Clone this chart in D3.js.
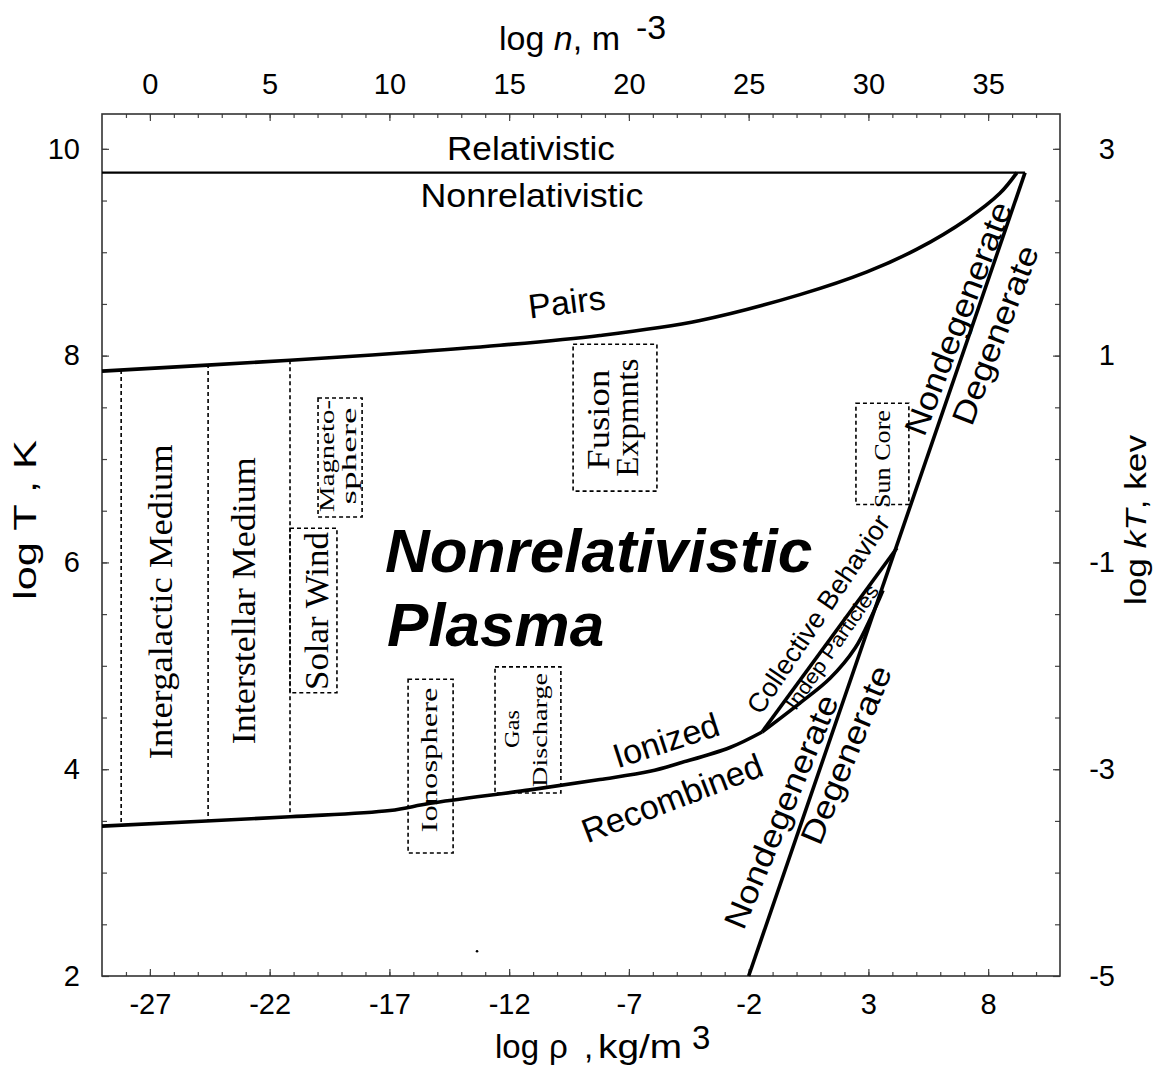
<!DOCTYPE html>
<html>
<head>
<meta charset="utf-8">
<script src="https://cdn.jsdelivr.net/npm/d3@7"></script>
<style>
  body { margin: 0; background: #fff; }
  text { font-family: "Liberation Sans", Arial, sans-serif; fill: #000; }
  .serif { font-family: "Liberation Serif", "Times New Roman", serif; }
</style>
</head>
<body>
<div id="chart"></div>
<script>
// ---- data (log rho in kg/m^3, log T in K) ----
var rhoTicks = [-27, -22, -17, -12, -7, -2, 3, 8];
var nTicks = [0, 5, 10, 15, 20, 25, 30, 35];
var tTicks = [2, 4, 6, 8, 10];
var kTTicks = [-5, -3, -1, 1, 3];

var relRho = [-29, 9.54];
var relT = [9.77, 9.77];

var pairsRho = [-29, -21.15, -16.56, -12.38, -8.21, -4.03, 0.14, 2.94, 5.03, 7.12, 8.49, 9.2];
var pairsT = [7.85, 7.955, 8.025, 8.10, 8.195, 8.34, 8.59, 8.81, 9.03, 9.32, 9.57, 9.77];

var recombRho = [-29, -21.15, -16.98, -15.3, -11.13, -8.21, -6.12, -4.87, -2.78, -1.44];
var recombT = [3.45, 3.54, 3.60, 3.67, 3.80, 3.90, 3.98, 4.06, 4.21, 4.36];

var collRho = [-1.44, 4.19];
var collT = [4.36, 6.14];

var indepRho = [-1.44, 0.14, 1.40, 2.44, 3.15, 3.61];
var indepT = [4.36, 4.64, 4.88, 5.17, 5.49, 5.73];

var degRho = [-2, 9.54];
var degT = [2, 9.77];

// vertical dotted lines bounding the medium columns
var mediumRho = [-28.2, -24.57, -21.15];
var mediumTop = [7.86, 7.92, 7.955];
var mediumBottom = [3.46, 3.51, 3.54];

// dotted boxes: rho0, rho1, T0, T1
var boxNames = ["Solar Wind", "Magnetosphere", "Fusion", "Sun Core", "Ionosphere", "Gas Discharge"];
var boxRho0 = [-21.15, -19.98, -9.33, 2.48, -16.22, -12.59];
var boxRho1 = [-19.19, -18.14, -5.83, 4.69, -14.34, -9.84];
var boxT0 = [4.74, 6.44, 6.69, 6.56, 3.19, 3.77];
var boxT1 = [6.33, 7.59, 8.11, 7.54, 4.87, 4.99];

var strayDot = [[-13.34, 2.24]];

// ---- layout ----
var W = 1160, H = 1068;
var frame = {left: 102, right: 1060, top: 114, bottom: 976};

var x = d3.scaleLinear().domain([-29, 11]).range([frame.left, frame.right]);
var y = d3.scaleLinear().domain([2, 10.337]).range([frame.bottom, frame.top]);
var xTop = d3.scaleLinear().domain([-2, 38]).range([frame.left, frame.right]);
var yRight = d3.scaleLinear().domain([-5, 3.337]).range([frame.bottom, frame.top]);

var svg = d3.select("#chart").append("svg")
    .attr("width", W)
    .attr("height", H);

// ---- axes ----
function minor(a, b, step) { return d3.range(a, b + 1e-9, step); }
var plain = function(d) { return String(d); };   // hyphen minus like the original

svg.append("g")
    .attr("transform", "translate(0," + frame.bottom + ")")
    .call(d3.axisBottom(x).tickValues(minor(-28, 10, 1)).tickSize(-4).tickFormat(""));
svg.append("g")
    .attr("transform", "translate(0," + frame.bottom + ")")
    .call(d3.axisBottom(x).tickValues(rhoTicks).tickSize(-7).tickPadding(17).tickFormat(plain));

svg.append("g")
    .attr("transform", "translate(0," + frame.top + ")")
    .call(d3.axisTop(xTop).tickValues(minor(-1, 37, 1)).tickSize(-4).tickFormat(""));
svg.append("g")
    .attr("transform", "translate(0," + frame.top + ")")
    .call(d3.axisTop(xTop).tickValues(nTicks).tickSize(-7).tickPadding(20).tickFormat(plain));

svg.append("g")
    .attr("transform", "translate(" + frame.left + ",0)")
    .call(d3.axisLeft(y).tickValues(minor(2.5, 10, 0.5)).tickSize(-5).tickFormat(""));
svg.append("g")
    .attr("transform", "translate(" + frame.left + ",0)")
    .call(d3.axisLeft(y).tickValues(tTicks).tickSize(-7).tickPadding(22).tickFormat(plain));

svg.append("g")
    .attr("transform", "translate(" + frame.right + ",0)")
    .call(d3.axisRight(yRight).tickValues(minor(-4.5, 3, 0.5)).tickSize(-5).tickFormat(""));
svg.append("g")
    .attr("class", "rightAxis")
    .attr("transform", "translate(" + frame.right + ",0)")
    .call(d3.axisRight(yRight).tickValues(kTTicks).tickSize(-7).tickPadding(22).tickFormat(plain));

svg.selectAll(".domain").remove();
svg.selectAll(".tick line").attr("stroke", "#444").attr("stroke-width", 1.2);
svg.selectAll(".tick text").style("font-size", "29px").attr("fill", "#000");
svg.selectAll(".rightAxis .tick text").attr("text-anchor", "end").attr("x", 55);

svg.append("rect")
    .attr("x", frame.left).attr("y", frame.top)
    .attr("width", frame.right - frame.left).attr("height", frame.bottom - frame.top)
    .attr("fill", "none").attr("stroke", "#333").attr("stroke-width", 1.6);

// axis titles
svg.append("text")
    .attr("transform", "translate(36,520) rotate(-90)")
    .attr("text-anchor", "middle")
    .attr("textLength", 160).attr("lengthAdjust", "spacingAndGlyphs")
    .style("font-size", "32px")
    .text("log  T , K");

var rt = svg.append("text")
    .attr("transform", "translate(1146,520) rotate(-90)")
    .attr("text-anchor", "middle")
    .attr("textLength", 170).attr("lengthAdjust", "spacingAndGlyphs")
    .style("font-size", "30px");
rt.append("tspan").text("log  ");
rt.append("tspan").style("font-style", "italic").text("kT");
rt.append("tspan").text(", kev");

var bt = svg.append("text")
    .attr("y", 1058)
    .style("font-size", "33px");
bt.append("tspan").attr("x", 495).text("log");
bt.append("tspan").attr("x", 549).text("\u03c1");
bt.append("tspan").attr("x", 584).text(",");
bt.append("tspan").attr("x", 598).attr("textLength", 84).attr("lengthAdjust", "spacingAndGlyphs").text("kg/m");
bt.append("tspan").attr("x", 692).attr("dy", -9).text("3");

var tt = svg.append("text")
    .attr("y", 50)
    .style("font-size", "34px");
tt.append("tspan").attr("x", 499).text("log ");
tt.append("tspan").style("font-style", "italic").text("n");
tt.append("tspan").text(", m");
tt.append("tspan").attr("x", 636).attr("dy", -11).text("-3");

// ---- curves ----
var plot = svg.append("g");

function pts(rs, ts) { return rs.map(function(r, i) { return [r, ts[i]]; }); }

var straight = d3.line()
    .x(function(d) { return x(d[0]); })
    .y(function(d) { return y(d[1]); });
var smooth = d3.line()
    .x(function(d) { return x(d[0]); })
    .y(function(d) { return y(d[1]); })
    .curve(d3.curveCatmullRom.alpha(0.5));

plot.append("path").attr("d", straight(pts(relRho, relT)))
    .attr("fill", "none").attr("stroke", "#000").attr("stroke-width", 2.2);

[[pairsRho, pairsT, smooth], [recombRho, recombT, smooth], [collRho, collT, straight],
 [indepRho, indepT, smooth], [degRho, degT, straight]].forEach(function(c) {
  plot.append("path").attr("d", c[2](pts(c[0], c[1])))
      .attr("fill", "none").attr("stroke", "#000")
      .attr("stroke-width", 3.6).attr("stroke-linejoin", "round");
});

// dotted medium boundaries
plot.selectAll(".medium").data(mediumRho).enter().append("line")
    .attr("x1", function(d) { return x(d); }).attr("x2", function(d) { return x(d); })
    .attr("y1", function(d, i) { return y(mediumTop[i]); })
    .attr("y2", function(d, i) { return y(mediumBottom[i]); })
    .attr("stroke", "#000").attr("stroke-width", 1.6).attr("stroke-dasharray", "4,3");

// dotted boxes
plot.selectAll(".box").data(boxNames).enter().append("rect")
    .attr("x", function(d, i) { return x(boxRho0[i]); })
    .attr("y", function(d, i) { return y(boxT1[i]); })
    .attr("width", function(d, i) { return x(boxRho1[i]) - x(boxRho0[i]); })
    .attr("height", function(d, i) { return y(boxT0[i]) - y(boxT1[i]); })
    .attr("fill", "none").attr("stroke", "#000").attr("stroke-width", 1.6)
    .attr("stroke-dasharray", "4,3");

plot.selectAll(".stray").data(strayDot).enter().append("circle")
    .attr("cx", function(d) { return x(d[0]); }).attr("cy", function(d) { return y(d[1]); })
    .attr("r", 1.3).attr("fill", "#000");

// ---- labels (anchored in data coordinates) ----
// [text, rho, T, angle, font size, length or 0, class]
var labels = [
  ["Relativistic", -11.09, 10.01, 0, 34, 168, ""],
  ["Nonrelativistic", -11.05, 9.55, 0, 34, 223, ""],
  ["Pairs", -9.6, 8.52, -7, 34, 0, ""],
  ["Ionized", -5.45, 4.28, -18, 34, 0, ""],
  ["Recombined", -5.2, 3.72, -21, 34, 0, ""],
  ["Collective Behavior", 0.9, 5.50, -56, 27, 233, ""],
  ["Indep Particles", 1.48, 5.18, -55, 20, 147, ""],
  ["Nondegenerate", 6.74, 8.36, -69, 32, 247, ""],
  ["Degenerate", 8.29, 8.20, -69, 32, 189, ""],
  ["Nondegenerate", -0.65, 3.59, -67.5, 32, 250, ""],
  ["Degenerate", 2.06, 4.14, -67.5, 32, 190, ""],
  ["Intergalactic Medium", -26.58, 5.62, -90, 34, 315, "serif"],
  ["Interstellar Medium", -23.11, 5.63, -90, 34, 287, "serif"],
  ["Solar Wind", -20.06, 5.53, -90, 34, 158, "serif"],
  ["Magneto-", -19.61, 7.03, -90, 20, 112, "serif"],
  ["sphere", -18.69, 7.03, -90, 20, 97, "serif"],
  ["Fusion", -8.29, 7.38, -90, 32, 100, "serif"],
  ["Expmnts", -7.08, 7.40, -90, 32, 118, "serif"],
  ["Sun Core", 3.57, 7.0, -90, 24, 98, "serif"],
  ["Ionosphere", -15.35, 4.09, -90, 24, 145, "serif"],
  ["Gas", -11.88, 4.39, -90, 21, 38, "serif"],
  ["Discharge", -10.71, 4.38, -90, 21, 114, "serif"]
];

labels.forEach(function(l) {
  var t = plot.append("text")
      .attr("class", l[6])
      .attr("transform", "translate(" + x(l[1]) + "," + y(l[2]) + ") rotate(" + l[3] + ")")
      .attr("text-anchor", "middle")
      .attr("dy", "0.35em")
      .style("font-size", l[4] + "px")
      .text(l[0]);
  if (l[5]) t.attr("textLength", l[5]).attr("lengthAdjust", "spacingAndGlyphs");
});

// big title in the middle
var big = [["Nonrelativistic", -17.18, 5.907], ["Plasma", -17.1, 5.19]];
big.forEach(function(b) {
  plot.append("text")
      .attr("x", x(b[1])).attr("y", y(b[2]))
      .style("font-size", "62px").style("font-weight", "bold").style("font-style", "italic")
      .text(b[0]);
});
</script>
</body>
</html>
